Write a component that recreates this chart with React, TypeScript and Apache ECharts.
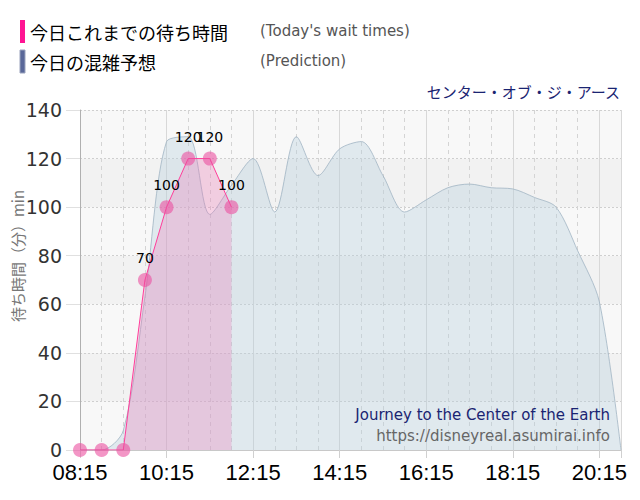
import React, { useEffect, useRef } from "react";
import * as echarts from "echarts";

// Today's actual wait times
const actualTimes = ["08:15", "08:45", "09:15", "09:45", "10:15", "10:45", "11:15", "11:45"];
const actualValues = [0, 0, 0, 70, 100, 120, 120, 100];

// Prediction
const predTimes = [
  "08:15", "08:45", "09:15", "09:45", "10:15", "10:45", "11:15", "11:45", "12:15", "12:45",
  "13:15", "13:45", "14:15", "14:45", "15:15", "15:45", "16:15", "16:45", "17:15", "17:45",
  "18:15", "18:45", "19:15", "19:45", "20:15", "20:45",
];
const predValues = [
  0, 0, 8, 63, 127, 129, 97, 109, 120, 98,
  129, 113, 124, 127, 113, 98, 103, 108, 109.5, 108,
  107.5, 104, 100, 82, 61, 0,
];

const BASE = 8 * 60 + 15;
const toMin = (t: string) => {
  const [h, m] = t.split(":").map(Number);
  return h * 60 + m - BASE;
};
const fmt = (v: number) => {
  const t = v + BASE;
  const h = Math.floor(t / 60);
  const m = t % 60;
  return String(h).padStart(2, "0") + ":" + String(m).padStart(2, "0");
};

const X_MAX = toMin("20:45");

export default function App() {
  const ref = useRef<HTMLDivElement>(null);
  useEffect(() => {
    if (!ref.current) return;
    const chart = echarts.init(ref.current, undefined, { renderer: "svg" });
    const jp = '"Noto Sans CJK JP", sans-serif';
    const dv = '"DejaVu Sans", sans-serif';
    chart.setOption({
      animation: false,
      backgroundColor: "#ffffff",
      grid: { left: 80, right: 19, top: 110, bottom: 50 },
      xAxis: [
        {
          type: "value",
          min: 0,
          max: X_MAX,
          interval: 30,
          axisLine: { show: false },
          axisTick: { show: false },
          axisLabel: { show: false },
          splitLine: { show: true, lineStyle: { color: "#d4d4d4", type: [4, 4], width: 1 } },
        },
        {
          type: "value",
          min: 0,
          max: X_MAX,
          interval: 120,
          position: "bottom",
          axisLine: { show: true, lineStyle: { color: "#c8c8c8" } },
          axisTick: { show: true, length: 8, lineStyle: { color: "#d0d0d0" } },
          axisLabel: {
            show: true,
            formatter: (v: number) => (v % 120 === 0 && v < X_MAX ? fmt(v) : ""),
            fontFamily: '"Liberation Sans", Arial, sans-serif',
            fontSize: 22,
            color: "#000",
            margin: 11,
          },
          splitLine: { show: true, lineStyle: { color: "#d8d8d8", type: "solid", width: 1 } },
        },
      ],
      yAxis: {
        type: "value",
        min: 0,
        max: 140,
        interval: 20,
        axisLine: { show: true, lineStyle: { color: "#b0b0b0" } },
        axisTick: { show: true, length: 14, lineStyle: { color: "#e0e0e0" } },
        axisLabel: { fontFamily: dv, fontSize: 19, color: "#333", margin: 18 },
        splitLine: { show: true, lineStyle: { color: "#cfcfcf", type: [2, 2] } },
        splitArea: { show: true, areaStyle: { color: ["#f8f8f8", "#f2f2f2"] } },
      },
      series: [
        {
          type: "line",
          xAxisIndex: 0,
          data: predTimes.map((t, i) => [toMin(t), predValues[i]]),
          smooth: 0.3,
          symbol: "none",
          lineStyle: { color: "rgba(160,180,195,0.8)", width: 1 },
          areaStyle: { color: "rgba(180,205,222,0.5)" },
          z: 2,
        },
        {
          type: "line",
          xAxisIndex: 0,
          data: actualTimes.map((t, i) => [toMin(t), actualValues[i]]),
          smooth: false,
          symbol: "circle",
          symbolSize: 14,
          itemStyle: { color: "rgba(235,80,160,0.6)" },
          lineStyle: { color: "#ff3d9a", width: 1 },
          areaStyle: { color: "rgba(240,110,180,0.4)" },
          label: {
            show: true,
            position: "top",
            distance: 8,
            fontFamily: dv,
            fontSize: 14,
            color: "#000",
            formatter: (p: any) => (p.value[1] > 0 ? String(p.value[1]) : ""),
          },
          z: 3,
        },
      ],
      graphic: [
        { type: "rect", shape: { x: 20, y: 20, width: 5, height: 23 }, style: { fill: "#ff1493" } },
        {
          type: "text",
          style: { text: "今日これまでの待ち時間", x: 30, y: 32, font: `18px ${jp}`, fill: "#000", textVerticalAlign: "middle" },
        },
        {
          type: "text",
          style: { text: "(Today's wait times)", x: 260, y: 31, font: `15px ${dv}`, fill: "#555", textVerticalAlign: "middle" },
        },
        { type: "rect", shape: { x: 20, y: 50, width: 5, height: 23 }, style: { fill: "#5a6899", stroke: "#9aa3bd", lineWidth: 1 } },
        {
          type: "text",
          style: { text: "今日の混雑予想", x: 30, y: 62, font: `18px ${jp}`, fill: "#000", textVerticalAlign: "middle" },
        },
        {
          type: "text",
          style: { text: "(Prediction)", x: 260, y: 61, font: `15px ${dv}`, fill: "#555", textVerticalAlign: "middle" },
        },
        {
          type: "text",
          style: { text: "センター・オブ・ジ・アース", x: 620, y: 91, font: `15px ${jp}`, fill: "#1a2472", textAlign: "right", textVerticalAlign: "middle" },
        },
        {
          type: "text",
          z: 10,
          style: { text: "Journey to the Center of the Earth", x: 610, y: 415, font: `15px ${dv}`, fill: "#1a2472", textAlign: "right", textVerticalAlign: "middle" },
        },
        {
          type: "text",
          z: 10,
          style: { text: "https://disneyreal.asumirai.info", x: 610, y: 436, font: `15px ${dv}`, fill: "#666", textAlign: "right", textVerticalAlign: "middle" },
        },
        {
          type: "text",
          x: 17,
          y: 256,
          rotation: Math.PI / 2,
          style: { text: "待ち時間（分）min", x: 0, y: 0, font: `15px ${jp}`, fill: "#777", textAlign: "center", textVerticalAlign: "middle" },
        },
      ],
    });
    return () => chart.dispose();
  }, []);
  return <div ref={ref} style={{ position: "fixed", left: 0, top: 0, width: 640, height: 500 }} />;
}
